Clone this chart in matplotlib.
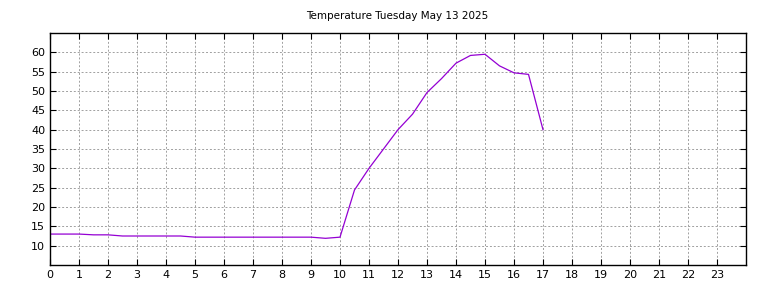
import matplotlib
matplotlib.use("Agg")
import matplotlib.pyplot as plt

hours = [0, 0.5, 1, 1.5, 2, 2.5, 3, 3.5, 4, 4.5, 5, 5.5, 6, 6.5, 7, 7.5, 8, 8.5,
         9, 9.5, 10, 10.5, 11, 11.5, 12, 12.5, 13, 13.5, 14, 14.5, 15, 15.5,
         16, 16.5, 17]
temps = [13.0, 13.0, 13.0, 12.8, 12.8, 12.5, 12.5, 12.5, 12.5, 12.5, 12.2, 12.2,
         12.2, 12.2, 12.2, 12.2, 12.2, 12.2, 12.2, 11.9, 12.2, 24.4, 30.0, 35.0,
         40.0, 44.0, 49.6, 53.2, 57.2, 59.2, 59.5, 56.5, 54.7, 54.3, 40.0]
x_ticks = list(range(0, 24))
y_ticks = list(range(10, 61, 5))
title = "Temperature Tuesday May 13 2025"

fig = plt.figure(figsize=(7.68, 2.88), dpi=100)
ax = fig.add_axes([50/768, 23/288, 696/768, 232/288])
ax.plot(hours, temps, color="#9400D3", linewidth=0.9)
ax.set_xlim(0, 24)
ax.set_ylim(5, 65)
ax.set_xticks(x_ticks)
ax.set_yticks(y_ticks)
ax.grid(True, color="#a0a0a0", linestyle=(0, (2, 2)), linewidth=0.7)
ax.tick_params(direction="in", top=True, right=True, length=4, labelsize=8, width=0.8)
for s in ax.spines.values():
    s.set_linewidth(1.0)
fig.text(397/768, 1 - 16/288, title, fontsize=7.5, ha="center", va="center")
fig.savefig("out.png", dpi=100)
